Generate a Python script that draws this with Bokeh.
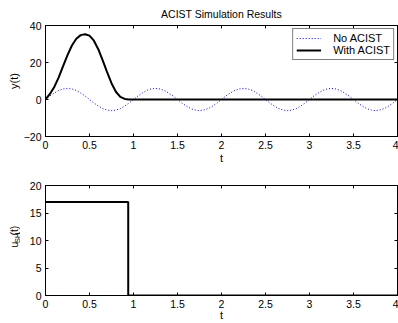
import math
from bokeh.plotting import figure
from bokeh.models import LinearAxis, Range1d, Label, Legend, LegendItem, FixedTicker, Title
from bokeh.layouts import column, row
from bokeh.embed import file_html
from bokeh.resources import INLINE

# ---- data ----
t = [round(0.05 * i, 2) for i in range(81)]
cycle_no = [0, 1.9, 3.5, 4.9, 5.7, 6.0, 5.7, 4.9, 3.5, 1.9,
            0, -1.9, -3.5, -4.9, -5.7, -6.0, -5.7, -4.9, -3.5, -1.9]
y_no_acist = cycle_no + cycle_no + cycle_no + cycle_no + [0]
y_with_acist = [0, 3.0, 6.8, 12.0, 18.0, 24.0, 29.2, 32.8, 34.8, 35.3,
                34.5, 31.8, 27.2, 21.2, 14.8, 8.8, 4.2, 1.4, 0.3, 0.0] + [0.0] * 61
u_t = [0, 0.94, 0.94, 4]
u_sh = [17, 17, 0, 0]
x_ticks = [0, 0.5, 1, 1.5, 2, 2.5, 3, 3.5, 4]
y1_ticks = [-20, 0, 20, 40]
y2_ticks = [0, 5, 10, 15, 20]

FONT = "Liberation Sans"
TICK_FS = "10.5px"
TEXT_FS = "11px"

W = 398
H1 = 166
H2 = 323 - H1


def mirror_axis(ticks):
    return LinearAxis(ticker=FixedTicker(ticks=ticks), major_tick_in=3, major_tick_out=0,
                      minor_tick_in=0, minor_tick_out=0, major_label_text_font_size="0px",
                      major_label_text_color=None, major_label_standoff=0,
                      axis_line_color="black", major_tick_line_color="black")


def style(p, xt, yt):
    p.xgrid.visible = False
    p.ygrid.visible = False
    p.outline_line_color = "black"
    p.outline_line_width = 1
    for ax in p.xaxis:
        ax.ticker = FixedTicker(ticks=xt)
    for ax in p.yaxis:
        ax.ticker = FixedTicker(ticks=yt)
    for ax in list(p.xaxis) + list(p.yaxis):
        ax.major_tick_in = 3
        ax.major_tick_out = 0
        ax.minor_tick_in = 0
        ax.minor_tick_out = 0
        ax.axis_line_color = "black"
        ax.major_tick_line_color = "black"
        ax.major_label_text_font = FONT
        ax.major_label_text_font_size = TICK_FS
        ax.major_label_text_color = "black"
        ax.major_label_standoff = 4
        ax.axis_label_text_font = FONT
        ax.axis_label_text_font_size = TEXT_FS
        ax.axis_label_text_font_style = "normal"
        ax.axis_label_text_color = "black"
    p.add_layout(mirror_axis(yt), "right")
    p.add_layout(mirror_axis(xt), "above")


# ---- top plot ----
p1 = figure(width=W, height=H1, output_backend="svg", toolbar_location=None,
            x_range=Range1d(0, 4), y_range=Range1d(-20, 40),
            min_border_left=45, min_border_right=1, min_border_top=24, min_border_bottom=29)
p1.title = Title(text="ACIST Simulation Results", align="center", text_font=FONT,
                 text_font_size="10.5px", text_font_style="normal", text_color="black",
                 standoff=11)
r_no = p1.line(t, y_no_acist, line_color="blue", line_width=1, line_dash="1 2")
r_with = p1.line(t, y_with_acist, line_color="black", line_width=2)
style(p1, x_ticks, y1_ticks)
p1.below[0].axis_label = "t"
p1.below[0].axis_label_standoff = 0
p1.left[0].axis_label = "y(t)"
p1.left[0].axis_label_standoff = 1

legend = Legend(items=[LegendItem(label="No ACIST", renderers=[r_no]),
                       LegendItem(label="With ACIST", renderers=[r_with])],
                location="top_right", border_line_color="black", border_line_width=1,
                background_fill_color="white", background_fill_alpha=1.0,
                label_text_font=FONT, label_text_font_size=TEXT_FS, label_text_color="black",
                glyph_width=25, glyph_height=10, label_height=10, label_standoff=12,
                padding=3, spacing=0, margin=3)
p1.add_layout(legend)

# ---- bottom plot: y-label strip + plot ----
LW = 20
lab = figure(width=LW, height=H2, output_backend="svg", toolbar_location=None,
             x_axis_location=None, y_axis_location=None,
             min_border_left=0, min_border_right=0, min_border_top=0, min_border_bottom=0,
             x_range=Range1d(0, LW), y_range=Range1d(0, H2))
lab.outline_line_color = None
lab.xgrid.visible = False
lab.ygrid.visible = False
lab_kw = dict(angle=math.pi / 2, text_font=FONT, text_color="black",
              text_baseline="middle", text_align="left")
lab.add_layout(Label(x=13.5, y=68.5, text="u", text_font_size="10.5px", **lab_kw))
lab.add_layout(Label(x=16.5, y=75, text="SH", text_font_size="7.5px", **lab_kw))
lab.add_layout(Label(x=13.5, y=85.5, text="(t)", text_font_size="10.5px", **lab_kw))

p2 = figure(width=W - LW, height=H2, output_backend="svg", toolbar_location=None,
            x_range=Range1d(0, 4), y_range=Range1d(0, 20),
            min_border_left=45 - LW, min_border_right=1, min_border_top=19, min_border_bottom=26)
p2.line(u_t, u_sh, line_color="black", line_width=2)
style(p2, x_ticks, y2_ticks)
p2.below[0].axis_label = "t"
p2.below[0].axis_label_standoff = -2

layout = column(p1, row(lab, p2))
open("out.html", "w").write(file_html(layout, INLINE))
